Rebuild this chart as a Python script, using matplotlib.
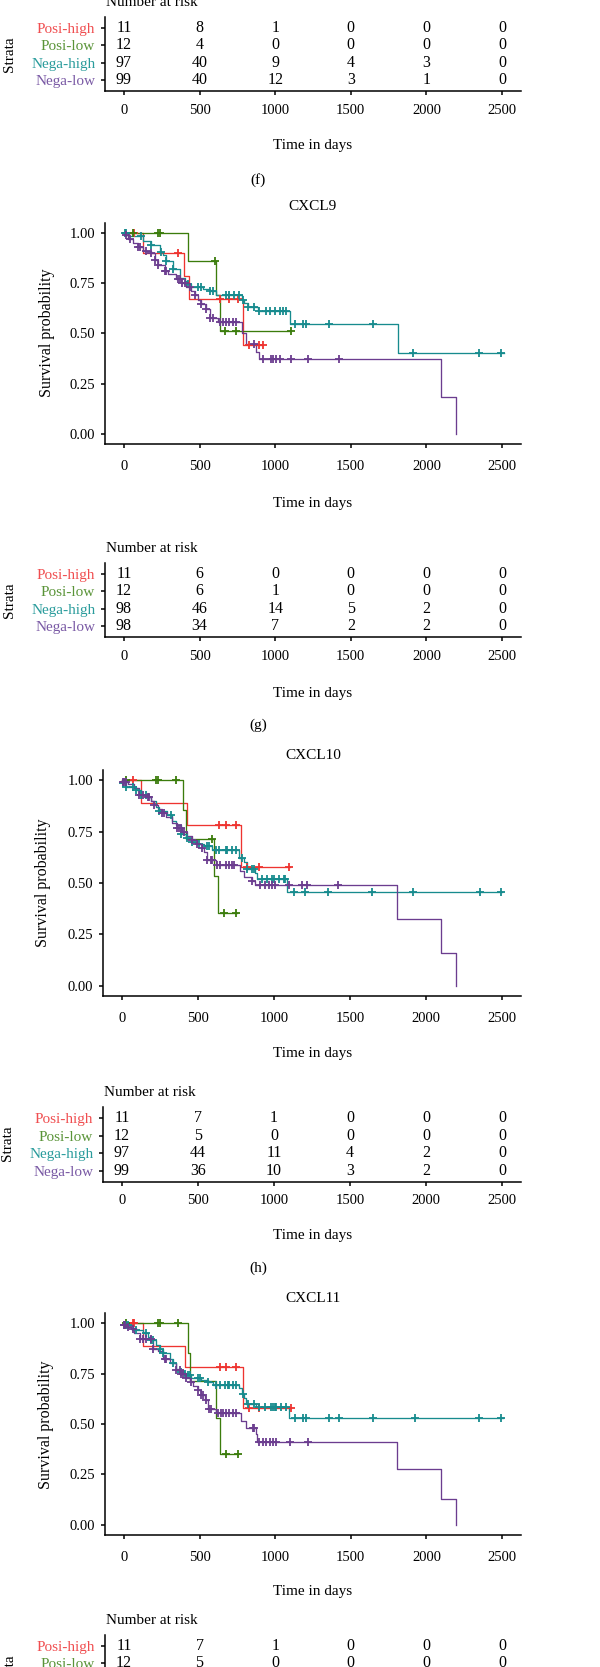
import numpy as np
import matplotlib
matplotlib.use('Agg')
import matplotlib.pyplot as plt

plt.rcParams['font.family'] = ['Liberation Serif', 'DejaVu Serif']

# ---------------- data ----------------
groups = ['Posi-high', 'Posi-low', 'Nega-high', 'Nega-low']
line_colors = ['#EE3430', '#3B7C0C', '#178B8E', '#6B3D8F']
label_colors = ['#F04E50', '#5A9438', '#2A9C9C', '#7A5AA5']
risk_times = [0, 500, 1000, 1500, 2000, 2500]
y_ticks = [0.0, 0.25, 0.50, 0.75, 1.00]
y_ticklabels = ['0.00', '0.25', '0.50', '0.75', '1.00']

# number-at-risk tables
risk_f_posi_high = [11, 8, 1, 0, 0, 0]
risk_f_posi_low = [12, 4, 0, 0, 0, 0]
risk_f_nega_high = [97, 40, 9, 4, 3, 0]
risk_f_nega_low = [99, 40, 12, 3, 1, 0]

risk_g_posi_high = [11, 6, 0, 0, 0, 0]
risk_g_posi_low = [12, 6, 1, 0, 0, 0]
risk_g_nega_high = [98, 46, 14, 5, 2, 0]
risk_g_nega_low = [98, 34, 7, 2, 2, 0]

risk_h_posi_high = [11, 7, 1, 0, 0, 0]
risk_h_posi_low = [12, 5, 0, 0, 0, 0]
risk_h_nega_high = [97, 44, 11, 4, 2, 0]
risk_h_nega_low = [99, 36, 10, 3, 2, 0]

risk_i_posi_high = [11, 7, 1, 0, 0, 0]
risk_i_posi_low = [12, 5, 0, 0, 0, 0]

# ---- CXCL9 ----
cxcl9_posi_high_t = [0, 125, 400, 430, 786]
cxcl9_posi_high_s = [1.0, 0.90, 0.785, 0.67, 0.445]
cxcl9_posi_high_end = 918
cxcl9_posi_high_c = [70, 357, 632, 698, 753, 830, 896, 918]

cxcl9_posi_low_t = [0, 423, 610, 637]
cxcl9_posi_low_s = [1.0, 0.86, 0.69, 0.51]
cxcl9_posi_low_end = 1106
cxcl9_posi_low_c = [60, 226, 236, 599, 665, 742, 1106]

cxcl9_nega_high_t = [0, 26, 126, 181, 236, 258, 280, 324, 368, 401, 419, 445, 522, 566, 606,
                     782, 797, 819, 885, 1095, 1811]
cxcl9_nega_high_s = [1.0, 0.985, 0.96, 0.94, 0.905, 0.89, 0.86, 0.82, 0.775, 0.76, 0.745, 0.73,
                     0.72, 0.71, 0.69, 0.665, 0.65, 0.63, 0.61, 0.545, 0.405]
cxcl9_nega_high_end = 2515
cxcl9_nega_high_c = [4, 15, 115, 181, 247, 280, 324, 423, 489, 511, 566, 588, 676, 698, 731, 764,
                     786, 819, 863, 896, 940, 963, 996, 1029, 1051, 1073, 1128, 1183, 1205, 1359,
                     1645, 1910, 2350, 2493]

cxcl9_nega_low_t = [0, 26, 59, 93, 126, 181, 203, 225, 269, 291, 346, 379, 412, 445, 467, 489,
                    511, 544, 566, 621, 782, 808, 874, 890, 2097, 2196]
cxcl9_nega_low_s = [0.99, 0.97, 0.95, 0.93, 0.91, 0.90, 0.865, 0.84, 0.81, 0.795, 0.77, 0.75,
                    0.73, 0.71, 0.69, 0.665, 0.645, 0.62, 0.575, 0.555, 0.50, 0.45, 0.41, 0.375,
                    0.185, 0.0]
cxcl9_nega_low_end = 2196
cxcl9_nega_low_c = [11, 37, 93, 104, 148, 181, 203, 225, 269, 280, 357, 368, 385, 401, 434, 467,
                    511, 544, 566, 588, 632, 654, 676, 698, 720, 742, 863, 918, 974, 985, 1007,
                    1029, 1106, 1216, 1425]

# ---- CXCL10 ----
cxcl10_posi_high_t = [0, 124, 430, 786]
cxcl10_posi_high_s = [1.0, 0.89, 0.78, 0.58]
cxcl10_posi_high_end = 1107
cxcl10_posi_high_c = [70, 638, 681, 747, 823, 900, 1100]

cxcl10_posi_low_t = [0, 404, 424, 605, 633]
cxcl10_posi_low_s = [1.0, 0.857, 0.715, 0.535, 0.353]
cxcl10_posi_low_end = 758
cxcl10_posi_low_c = [26, 223, 234, 354, 594, 670, 753]

cxcl10_nega_high_t = [0, 26, 92, 124, 168, 190, 223, 245, 299, 332, 354, 386, 419, 452, 496, 539,
                      594, 773, 801, 823, 878, 889, 1087]
cxcl10_nega_high_s = [0.985, 0.965, 0.955, 0.93, 0.92, 0.90, 0.87, 0.85, 0.83, 0.80, 0.78, 0.74,
                      0.72, 0.70, 0.69, 0.68, 0.66, 0.62, 0.60, 0.57, 0.55, 0.52, 0.455]
cxcl10_nega_high_end = 2500
cxcl10_nega_high_c = [9, 26, 70, 92, 124, 157, 245, 321, 386, 430, 463, 507, 561, 572, 616, 638,
                      681, 692, 725, 747, 790, 823, 856, 867, 921, 954, 987, 998, 1031, 1063, 1074,
                      1129, 1205, 1358, 1642, 1915, 2352, 2493]

cxcl10_nega_low_t = [0, 37, 81, 114, 168, 190, 212, 234, 266, 288, 332, 365, 397, 430, 463, 496,
                     528, 539, 561, 616, 779, 801, 856, 873, 1806, 2096, 2199]
cxcl10_nega_low_s = [0.99, 0.98, 0.96, 0.93, 0.92, 0.90, 0.88, 0.86, 0.84, 0.82, 0.79, 0.77, 0.75,
                     0.73, 0.71, 0.69, 0.67, 0.65, 0.61, 0.59, 0.56, 0.53, 0.51, 0.49, 0.325, 0.16,
                     0.0]
cxcl10_nega_low_end = 2199
cxcl10_nega_low_c = [4, 15, 26, 114, 135, 168, 179, 212, 266, 277, 365, 376, 386, 408, 463, 496,
                     528, 561, 583, 594, 627, 648, 681, 703, 725, 736, 856, 910, 943, 965, 987,
                     1009, 1096, 1183, 1216, 1424]

# ---- CXCL11 ----
cxcl11_posi_high_t = [0, 126, 401, 786]
cxcl11_posi_high_s = [1.0, 0.885, 0.78, 0.577]
cxcl11_posi_high_end = 1106
cxcl11_posi_high_c = [59, 70, 632, 676, 742, 830, 896, 1106]

cxcl11_posi_low_t = [0, 423, 434, 606, 632]
cxcl11_posi_low_s = [1.0, 0.85, 0.715, 0.53, 0.353]
cxcl11_posi_low_end = 753
cxcl11_posi_low_c = [15, 225, 236, 357, 672, 753]

cxcl11_nega_high_t = [0, 59, 81, 126, 159, 181, 214, 236, 258, 302, 324, 346, 379, 401, 423, 445,
                      511, 555, 588, 764, 782, 797, 808, 874, 1090]
cxcl11_nega_high_s = [0.99, 0.975, 0.965, 0.95, 0.93, 0.915, 0.89, 0.87, 0.85, 0.82, 0.80, 0.775,
                      0.76, 0.75, 0.745, 0.73, 0.72, 0.71, 0.695, 0.68, 0.65, 0.63, 0.60, 0.585,
                      0.53]
cxcl11_nega_high_end = 2504
cxcl11_nega_high_c = [2, 11, 26, 81, 148, 181, 192, 236, 258, 324, 379, 401, 423, 434, 489, 500,
                      555, 610, 632, 665, 687, 698, 720, 742, 786, 819, 863, 896, 930, 974, 985,
                      996, 1007, 1040, 1073, 1128, 1183, 1205, 1359, 1425, 1645, 1921, 2350, 2493]

cxcl11_nega_low_t = [0, 15, 48, 70, 104, 192, 225, 258, 302, 346, 379, 412, 434, 456, 489, 511,
                     533, 555, 610, 775, 804, 874, 881, 1806, 2097, 2196]
cxcl11_nega_low_s = [0.99, 0.98, 0.97, 0.95, 0.92, 0.87, 0.86, 0.82, 0.80, 0.77, 0.75, 0.73, 0.71,
                     0.69, 0.67, 0.645, 0.62, 0.575, 0.555, 0.515, 0.48, 0.45, 0.41, 0.275, 0.13,
                     0.0]
cxcl11_nega_low_end = 2196
cxcl11_nega_low_c = [0, 4, 26, 59, 104, 126, 148, 181, 192, 269, 280, 346, 368, 379, 390, 412,
                     445, 489, 511, 522, 540, 562, 577, 621, 643, 654, 676, 698, 720, 742, 852,
                     863, 896, 918, 940, 963, 985, 1007, 1095, 1216]

# ---------------- figure ----------------
W, H = 600, 1667
fig = plt.figure(figsize=(W / 100, H / 100), dpi=100)
fig.patch.set_facecolor('white')

TXT = 10.5


def add_ax(top, bottom, left=105, right=521):
    return fig.add_axes([left / W, 1 - bottom / H, (right - left) / W, (bottom - top) / H])


def ftext(x, y, s, **kw):
    kw.setdefault('fontsize', TXT)
    kw.setdefault('ha', 'center')
    kw.setdefault('va', 'center')
    fig.text(x / W, 1 - y / H, s, **kw)


def style_axes(ax):
    for sp in ['top', 'right']:
        ax.spines[sp].set_visible(False)
    for sp in ['left', 'bottom']:
        ax.spines[sp].set_linewidth(1.1)
    ax.tick_params(direction='out', length=3, width=1.1, labelsize=10.5, colors='black')
    ax.set_xlim(-125, 2625)
    ax.set_xticks(risk_times)
    ax.set_xticklabels([str(t) for t in risk_times])


def km_plot(top, bottom, curves, left=105):
    ax = add_ax(top, bottom, left)
    style_axes(ax)
    ax.tick_params(axis='x', pad=8.5)
    ax.tick_params(axis='y', pad=4)
    ax.set_ylim(-0.05, 1.05)
    ax.set_yticks(y_ticks)
    ax.set_yticklabels(y_ticklabels)
    for (t, s, end, c), col in zip(curves, line_colors):
        t = np.asarray(t, float)
        s = np.asarray(s, float)
        xs = np.append(t, end)
        ys = np.append(s, s[-1])
        ax.step(xs, ys, where='post', color=col, lw=0.95, zorder=3)
        c = np.asarray(c, float)
        idx = np.searchsorted(t, c, side='right') - 1
        idx = np.clip(idx, 0, len(s) - 1)
        ax.plot(c, s[idx], '+', color=col, ms=6, mew=1.3, zorder=4)
    return ax


def risk_table(top, bottom, rows, left=105):
    ax = add_ax(top, bottom, left)
    style_axes(ax)
    ax.tick_params(axis='x', pad=6)
    ax.tick_params(axis='y', pad=4)
    ax.set_ylim(0.4, 4.6)
    ax.set_yticks([4, 3, 2, 1])
    ax.set_yticklabels(groups)
    for lbl, col in zip(ax.get_yticklabels(), label_colors):
        lbl.set_color(col)
        lbl.set_fontsize(11)
    for i, vals in enumerate(rows):
        for t, v in zip(risk_times, vals):
            ax.text(t, 4 - i, str(v), ha='center', va='center', fontsize=11.5, color='black')
    return ax


# ---- panel (f) table ----
risk_table(17, 91, [risk_f_posi_high, risk_f_posi_low, risk_f_nega_high, risk_f_nega_low])
ftext(106, 2, 'Number at risk', ha='left', fontsize=11)
ftext(10, 54, 'Strata', rotation=90, fontsize=11)
ftext(313, 146, 'Time in days', fontsize=11)
ftext(258, 180, '(f)', fontsize=11)

# ---- CXCL9 ----
km_plot(223, 444, [
    (cxcl9_posi_high_t, cxcl9_posi_high_s, cxcl9_posi_high_end, cxcl9_posi_high_c),
    (cxcl9_posi_low_t, cxcl9_posi_low_s, cxcl9_posi_low_end, cxcl9_posi_low_c),
    (cxcl9_nega_high_t, cxcl9_nega_high_s, cxcl9_nega_high_end, cxcl9_nega_high_c),
    (cxcl9_nega_low_t, cxcl9_nega_low_s, cxcl9_nega_low_end, cxcl9_nega_low_c),
])
ftext(313, 207, 'CXCL9', fontsize=11)
ftext(47, 333, 'Survival probability', rotation=90, fontsize=11.5)
ftext(313, 503, 'Time in days', fontsize=11)

# ---- panel (g) table ----
risk_table(563, 637, [risk_g_posi_high, risk_g_posi_low, risk_g_nega_high, risk_g_nega_low])
ftext(106, 548, 'Number at risk', ha='left', fontsize=11)
ftext(10, 600, 'Strata', rotation=90, fontsize=11)
ftext(313, 693, 'Time in days', fontsize=11)
ftext(258, 725, '(g)', fontsize=11)

# ---- CXCL10 ----
km_plot(770, 996, [
    (cxcl10_posi_high_t, cxcl10_posi_high_s, cxcl10_posi_high_end, cxcl10_posi_high_c),
    (cxcl10_posi_low_t, cxcl10_posi_low_s, cxcl10_posi_low_end, cxcl10_posi_low_c),
    (cxcl10_nega_high_t, cxcl10_nega_high_s, cxcl10_nega_high_end, cxcl10_nega_high_c),
    (cxcl10_nega_low_t, cxcl10_nega_low_s, cxcl10_nega_low_end, cxcl10_nega_low_c),
], left=103)
ftext(313, 755, 'CXCL10', fontsize=11)
ftext(43, 883, 'Survival probability', rotation=90, fontsize=11.5)
ftext(313, 1053, 'Time in days', fontsize=11)

# ---- panel (h) table ----
risk_table(1107, 1182, [risk_h_posi_high, risk_h_posi_low, risk_h_nega_high, risk_h_nega_low],
           left=103)
ftext(104, 1092, 'Number at risk', ha='left', fontsize=11)
ftext(8, 1143, 'Strata', rotation=90, fontsize=11)
ftext(313, 1235, 'Time in days', fontsize=11)
ftext(258, 1268, '(h)', fontsize=11)

# ---- CXCL11 ----
km_plot(1313, 1535, [
    (cxcl11_posi_high_t, cxcl11_posi_high_s, cxcl11_posi_high_end, cxcl11_posi_high_c),
    (cxcl11_posi_low_t, cxcl11_posi_low_s, cxcl11_posi_low_end, cxcl11_posi_low_c),
    (cxcl11_nega_high_t, cxcl11_nega_high_s, cxcl11_nega_high_end, cxcl11_nega_high_c),
    (cxcl11_nega_low_t, cxcl11_nega_low_s, cxcl11_nega_low_end, cxcl11_nega_low_c),
])
ftext(313, 1298, 'CXCL11', fontsize=11)
ftext(46, 1425, 'Survival probability', rotation=90, fontsize=11.5)
ftext(313, 1591, 'Time in days', fontsize=11)

# ---- panel (i) table (cut off at the bottom, as in the source figure) ----
risk_table(1635, 1709, [risk_i_posi_high, risk_i_posi_low])
ftext(106, 1620, 'Number at risk', ha='left', fontsize=11)
ftext(10, 1672, 'Strata', rotation=90, fontsize=11)

fig.savefig('out.png', dpi=100, facecolor='white')
